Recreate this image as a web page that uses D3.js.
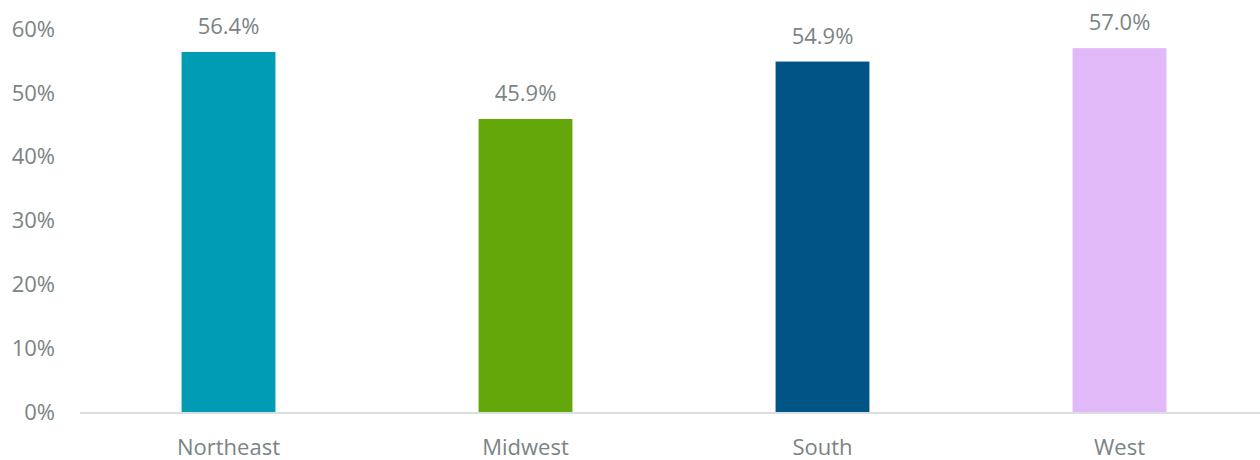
<!DOCTYPE html>
<html>
<head>
<meta charset="utf-8">
<script src="https://cdn.jsdelivr.net/npm/d3@7"></script>
<style>
body{margin:0;background:#fff;}
text{font-family:"Open Sans","Noto Sans",sans-serif;fill:#7a8484;}
</style>
</head>
<body>
<svg id="chart"></svg>
<script>
// chart data
var regions = ["Northeast","Midwest","South","West"];
var shares = [56.4, 45.9, 54.9, 57.0];
var barColors = ["#009cb5","#63a70b","#005586","#e1b9f9"];
var yTicks = [0,10,20,30,40,50,60];

var screen = {width:1260,height:460};
var margins = {left:80,right:-8,top:29,bottom:48};

var graph = {
    width:screen.width-margins.left-margins.right,
    height:screen.height-margins.top-margins.bottom
};

var svg = d3.select("#chart")
.attr("width",screen.width)
.attr("height",screen.height);

var xScale = d3.scaleBand()
    .domain(regions)
    .range([margins.left,margins.left+graph.width])
    .paddingInner(0.684)
    .paddingOuter(0.342);

var yScale = d3.scaleLinear()
    .domain([0,60])
    .range([margins.top+graph.height,margins.top]);

// y tick labels
svg.append("g")
.selectAll("text")
.data(yTicks)
.enter()
.append("text")
.attr("x",55)
.attr("y",function(d){return yScale(d);})
.attr("dy","0.35em")
.attr("text-anchor","end")
.style("font-size","22px")
.text(function(d){return d+"%";});

var bars = regions.map(function(r,i){return {region:r,value:shares[i],color:barColors[i]};});

svg.append("g")
.selectAll("rect")
.data(bars)
.enter()
.append("rect")
.attr("x",function(d){return xScale(d.region);})
.attr("y",function(d){return yScale(d.value);})
.attr("width",xScale.bandwidth())
.attr("height",function(d){return yScale(0)-yScale(d.value);})
.attr("fill",function(d){return d.color;});

// baseline
svg.append("line")
.attr("x1",80)
.attr("x2",1260)
.attr("y1",yScale(0)+1)
.attr("y2",yScale(0)+1)
.attr("stroke","#d9dfdf")
.attr("stroke-width",2);

// value labels
svg.append("g")
.selectAll("text")
.data(bars)
.enter()
.append("text")
.attr("x",function(d){return xScale(d.region)+xScale.bandwidth()/2;})
.attr("y",function(d){return yScale(d.value)-18;})
.attr("text-anchor","middle")
.style("font-size","22px")
.text(function(d){return d.value.toFixed(1)+"%";});

// category labels
svg.append("g")
.selectAll("text")
.data(regions)
.enter()
.append("text")
.attr("x",function(d){return xScale(d)+xScale.bandwidth()/2;})
.attr("y",455)
.attr("text-anchor","middle")
.style("font-size","22px")
.text(function(d){return d;});
</script>
</body>
</html>
